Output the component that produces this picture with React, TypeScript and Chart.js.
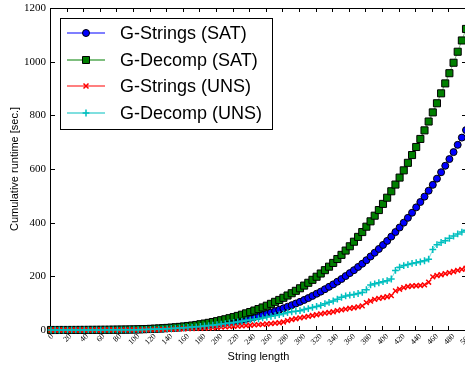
import React, { useEffect, useRef } from "react";
import { Chart, registerables } from "chart.js";

Chart.register(...registerables);

const stringLengths = [
  0, 5, 10, 15, 20, 25, 30, 35, 40, 45, 50, 55, 60, 65, 70, 75, 80, 85, 90, 95,
  100, 105, 110, 115, 120, 125, 130, 135, 140, 145, 150, 155, 160, 165, 170, 175, 180, 185, 190, 195,
  200, 205, 210, 215, 220, 225, 230, 235, 240, 245, 250, 255, 260, 265, 270, 275, 280, 285, 290, 295,
  300, 305, 310, 315, 320, 325, 330, 335, 340, 345, 350, 355, 360, 365, 370, 375, 380, 385, 390, 395,
  400, 405, 410, 415, 420, 425, 430, 435, 440, 445, 450, 455, 460, 465, 470, 475, 480, 485, 490, 495,
  500,
];

const gStringsSat = [
  0, 0, 0, 0.1, 0.1, 0.1, 0.2, 0.2, 0.2, 0.3, 0.3, 0.4, 0.5, 0.6, 0.7, 0.8, 1.0, 1.1, 1.3, 1.4,
  1.6, 1.9, 2.3, 2.7, 3.2, 3.7, 4.3, 4.9, 5.7, 6.5, 7.4, 8.4, 9.5, 10.7, 12.0, 13.4, 14.9, 16.5, 18.3, 20.2,
  22.3, 24.5, 26.8, 29.4, 32.1, 35.0, 38.1, 41.3, 44.8, 48.5, 52.4, 56.5, 60.9, 65.5, 70.3, 75.5, 80.8, 86.5, 92.5, 98.7,
  105, 112, 119, 127, 135, 143, 152, 161, 170, 180, 190, 201, 212, 223, 235, 247, 260, 274, 288, 302,
  317, 332, 348, 365, 382, 400, 418, 437, 457, 477, 497, 519, 541, 564, 588, 612, 637, 663, 690, 717,
  745,
];

const gDecompSat = [
  0, 0, 0.1, 0.1, 0.1, 0.2, 0.2, 0.3, 0.3, 0.4, 0.5, 0.6, 0.7, 0.8, 0.9, 1.1, 1.3, 1.5, 1.7, 1.9,
  2.1, 2.5, 3.1, 3.6, 4.3, 5.0, 5.9, 6.8, 7.8, 9.0, 10.2, 11.6, 13.2, 14.9, 16.7, 18.7, 21.5, 24.0, 26.7, 29.7,
  33, 36.5, 40, 44, 48, 52.5, 57, 62, 67, 72.5, 78, 84, 90.5, 97.5, 105, 112, 120, 128.5, 137, 146,
  155.5, 165.5, 176, 187, 198.5, 210.5, 223, 236, 250, 264.5, 280, 296, 312, 329, 347, 365, 385, 405, 426, 447,
  470, 493, 517, 542, 568, 595, 623, 652, 682, 712, 744, 777, 811, 845, 882, 919, 957, 996, 1037, 1079,
  1122,
];

const gStringsUns = [
  0, 0, 0, 0, 0, 0, 0.1, 0.1, 0.1, 0.1, 0.2, 0.2, 0.2, 0.3, 0.3, 0.3, 0.4, 0.4, 0.4, 0.5,
  0.5, 0.6, 0.8, 1.0, 1.2, 1.5, 1.8, 2.1, 2.5, 3.0, 3.5, 4.0, 4.5, 5.0, 5.5, 6.0, 6.5, 7.0, 7.5, 8.5,
  9.5, 10.5, 11.5, 12.5, 13.5, 14.5, 15.5, 16.5, 17.5, 19, 20, 21, 22.5, 24, 25.5, 27, 30, 35, 39, 42,
  45, 48, 51, 54, 57, 60, 63, 65, 68, 72, 75, 78, 81, 83, 86, 90, 102, 108, 114, 118,
  121, 124, 128, 146, 152, 158, 162, 164, 165, 166, 168, 178, 198, 203, 206, 210, 214, 218, 222, 226,
  230,
];

const gDecompUns = [
  0, 0, 0, 0, 0.1, 0.1, 0.1, 0.2, 0.2, 0.2, 0.3, 0.3, 0.4, 0.4, 0.5, 0.5, 0.6, 0.7, 0.8, 0.9,
  1.0, 1.2, 1.5, 2, 2.5, 3, 3.5, 4, 5, 5.5, 6.5, 7.5, 8.5, 9.5, 11, 12, 13.5, 15, 16.5, 18,
  20, 22, 24, 26, 28, 30, 32.5, 35, 37.5, 40, 42, 45, 48, 51, 54, 57, 61, 65, 68, 70,
  72, 76, 80, 84, 88, 92, 98, 103, 108, 115, 122, 127, 130, 132, 136, 140, 150, 168, 172, 176,
  180, 184, 190, 222, 234, 240, 244, 248, 251, 254, 258, 264, 300, 318, 326, 333, 342, 350, 358, 365,
  372,
];

const xTicks = [0, 20, 40, 60, 80, 100, 120, 140, 160, 180, 200, 220, 240, 260, 280, 300, 320, 340, 360, 380, 400, 420, 440, 460, 480, 500];
const yTicks = [0, 200, 400, 600, 800, 1000, 1200];

const seriesLabels = ["G-Strings (SAT)", "G-Decomp (SAT)", "G-Strings (UNS)", "G-Decomp (UNS)"];
const seriesValues = [gStringsSat, gDecompSat, gStringsUns, gDecompUns];
const lineColors = ["rgba(0,0,255,0.5)", "rgba(0,128,0,0.5)", "rgba(255,0,0,0.5)", "rgba(0,191,191,0.5)"];
const markerFills = ["#0000ff", "#007f00", "#ff0000", "#00bfbf"];
const markerEdges = ["#000000", "#000000", "#ff0000", "#00bfbf"];
const markerStyles = ["circle", "rect", "crossRot", "cross"];
const markerRadii = [3.5, 5, 3.4, 3.4];
const markerWidths = [1, 1, 1.5, 1.5];

function drawMarker(ctx: CanvasRenderingContext2D, style: string, cx: number, cy: number, i: number) {
  ctx.save();
  ctx.lineWidth = markerWidths[i];
  ctx.fillStyle = markerFills[i];
  ctx.strokeStyle = markerEdges[i];
  ctx.beginPath();
  if (style === "circle") {
    ctx.arc(cx, cy, 3.5, 0, Math.PI * 2);
    ctx.fill();
    ctx.stroke();
  } else if (style === "rect") {
    ctx.rect(cx - 3.5, cy - 3.5, 7, 7);
    ctx.fill();
    ctx.stroke();
  } else if (style === "crossRot") {
    ctx.moveTo(cx - 2.5, cy - 2.5);
    ctx.lineTo(cx + 2.5, cy + 2.5);
    ctx.moveTo(cx - 2.5, cy + 2.5);
    ctx.lineTo(cx + 2.5, cy - 2.5);
    ctx.stroke();
  } else {
    ctx.moveTo(cx - 3.4, cy);
    ctx.lineTo(cx + 3.4, cy);
    ctx.moveTo(cx, cy - 3.4);
    ctx.lineTo(cx, cy + 3.4);
    ctx.stroke();
  }
  ctx.restore();
}

const framePlugin = {
  id: "framePlugin",
  beforeDatasetsDraw(chart: any) {
    const { ctx, chartArea: a, scales } = chart;
    const xs = scales.x;
    const ys = scales.y;
    ctx.save();
    ctx.strokeStyle = "#000";
    ctx.lineWidth = 1;
    ctx.strokeRect(a.left - 0.5, a.top + 0.5, a.right - a.left + 1, a.bottom - a.top);
    ctx.beginPath();
    for (const v of xTicks) {
      const px = Math.round(xs.getPixelForValue(v)) - 0.5;
      ctx.moveTo(px, a.bottom);
      ctx.lineTo(px, a.bottom - 4);
      ctx.moveTo(px, a.top);
      ctx.lineTo(px, a.top + 4);
    }
    for (const v of yTicks) {
      const py = Math.round(ys.getPixelForValue(v)) + 0.5;
      ctx.moveTo(a.left, py);
      ctx.lineTo(a.left + 4, py);
      ctx.moveTo(a.right, py);
      ctx.lineTo(a.right - 4, py);
    }
    ctx.stroke();

    ctx.fillStyle = "#000";
    ctx.font = '11px "Liberation Serif"';
    ctx.textAlign = "right";
    ctx.textBaseline = "middle";
    for (const v of yTicks) {
      ctx.fillText(String(v), a.left - 5, ys.getPixelForValue(v));
    }

    ctx.font = '8px "Liberation Serif"';
    ctx.textAlign = "center";
    ctx.textBaseline = "middle";
    for (const v of xTicks) {
      const t = String(v);
      const w = ctx.measureText(t).width;
      const h = (w + 6) * Math.SQRT1_2;
      ctx.save();
      ctx.translate(xs.getPixelForValue(v), a.bottom + 3 + h / 2);
      ctx.rotate(-Math.PI / 4);
      ctx.fillText(t, 0, 0);
      ctx.restore();
    }

    ctx.font = '11px "Liberation Sans"';
    ctx.textAlign = "center";
    ctx.textBaseline = "middle";
    ctx.fillText("String length", (a.left + a.right) / 2, 357);
    ctx.save();
    ctx.translate(15, (a.top + a.bottom) / 2);
    ctx.rotate(-Math.PI / 2);
    ctx.fillText("Cumulative runtime [sec.]", 0, 0);
    ctx.restore();
    ctx.restore();
  },
  afterDatasetsDraw(chart: any) {
    const { ctx } = chart;
    ctx.save();
    ctx.fillStyle = "#fff";
    ctx.fillRect(60, 18, 212, 111);
    ctx.strokeStyle = "#000";
    ctx.lineWidth = 1;
    ctx.strokeRect(60.5, 18.5, 212, 111);
    const rows = [33, 60, 86, 113];
    ctx.font = '18px "Liberation Sans"';
    ctx.textAlign = "left";
    ctx.textBaseline = "middle";
    for (let i = 0; i < seriesLabels.length; i++) {
      const y = rows[i];
      ctx.strokeStyle = lineColors[i];
      ctx.lineWidth = 2;
      ctx.beginPath();
      ctx.moveTo(67, y);
      ctx.lineTo(105, y);
      ctx.stroke();
      drawMarker(ctx, markerStyles[i], 86, y, i);
      ctx.fillStyle = "#000";
      ctx.fillText(seriesLabels[i], 120, y + 1);
    }
    ctx.restore();
  },
};

export default function App() {
  const canvasRef = useRef<HTMLCanvasElement | null>(null);

  useEffect(() => {
    const canvas = canvasRef.current;
    if (!canvas) return;
    const datasets = seriesValues.map((vals, i) => ({
      label: seriesLabels[i],
      data: stringLengths.map((x, j) => ({ x, y: vals[j] })),
      borderColor: lineColors[i],
      borderWidth: 1,
      backgroundColor: markerFills[i],
      pointBackgroundColor: markerFills[i],
      pointBorderColor: markerEdges[i],
      pointBorderWidth: markerWidths[i],
      pointStyle: markerStyles[i],
      pointRadius: markerRadii[i],
      pointHoverRadius: markerRadii[i],
      tension: 0,
      fill: false,
      clip: false as any,
      order: 3 - i,
    }));
    const chart = new Chart(canvas, {
      type: "line",
      data: { datasets },
      options: {
        responsive: false,
        maintainAspectRatio: false,
        animation: false,
        devicePixelRatio: 1,
        events: [],
        layout: { padding: { top: 8, right: 5, left: 0, bottom: 0 } },
        plugins: { legend: { display: false }, tooltip: { enabled: false } },
        scales: {
          x: {
            type: "linear",
            min: 0,
            max: 500,
            ticks: { display: false, stepSize: 20 },
            grid: { display: false },
            border: { display: false },
            afterFit: (s: any) => {
              s.height = 36;
            },
          },
          y: {
            type: "linear",
            min: 0,
            max: 1200,
            ticks: { display: false, stepSize: 200 },
            grid: { display: false },
            border: { display: false },
            afterFit: (s: any) => {
              s.width = 51;
            },
          },
        },
      },
      plugins: [framePlugin],
    });
    return () => chart.destroy();
  }, []);

  return (
    <div style={{ position: "fixed", left: 0, top: 0, width: 465, height: 366, overflow: "hidden", background: "#fff" }}>
      <canvas ref={canvasRef} width={472} height={366} style={{ display: "block", width: 472, height: 366 }} />
    </div>
  );
}
